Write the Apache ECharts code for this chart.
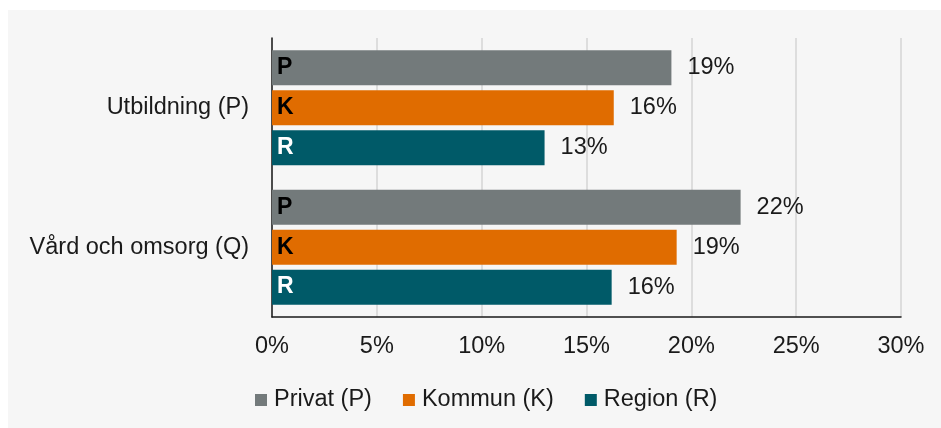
<!DOCTYPE html>
<html><head><meta charset="utf-8">
<script src="https://cdn.jsdelivr.net/npm/echarts@6/dist/echarts.min.js"></script>
<style>html,body{margin:0;padding:0;background:#fff;overflow:hidden}#c{position:absolute;left:8px;top:10px;width:933px;height:418px}</style>
</head><body><div id="c"></div>
<script>
const categories = ['Utbildning (P)', 'Vård och omsorg (Q)'];
const seriesNames = ['Privat (P)', 'Kommun (K)', 'Region (R)'];
const seriesLetters = ['P', 'K', 'R'];
const privat = [19.05, 22.35];
const kommun = [16.3, 19.3];
const region = [13.0, 16.2];
const xMin = 0, xMax = 30, xStep = 5;

const values = [privat, kommun, region];
const colors = ['#737a7b', '#e06c00', '#005a68'];
const letterColors = ['#000000', '#000000', '#ffffff'];
const FONT = "'Liberation Sans', Arial, sans-serif";
const gridPos = {left: 264, right: 40, top: 28, bottom: 111};

const chart = echarts.init(document.getElementById('c'));
const series = [];
values.forEach((v, i) => {
  series.push({
    type: 'bar', name: seriesNames[i], data: v, xAxisIndex: 0, yAxisIndex: 0,
    barWidth: 35, barGap: '14%',
    itemStyle: {color: colors[i]},
    label: {show: true, position: 'right', distance: 16, color: '#1a1a1a',
      fontFamily: FONT, fontSize: 23.5,
      formatter: p => Math.round(p.value) + '%'}
  });
});
values.forEach((v, i) => {
  series.push({
    type: 'bar', name: seriesNames[i], data: v, xAxisIndex: 1, yAxisIndex: 1,
    barWidth: 35, barGap: '14%', z: 5,
    itemStyle: {color: 'rgba(0,0,0,0)'},
    label: {show: true, position: 'insideLeft', distance: 5, color: letterColors[i],
      fontFamily: FONT, fontSize: 23, fontWeight: 'bold',
      formatter: () => seriesLetters[i]},
    legendHoverLink: false
  });
});

chart.setOption({
  backgroundColor: '#f6f6f6',
  animation: false,
  textStyle: {fontFamily: FONT},
  grid: [Object.assign({}, gridPos), Object.assign({}, gridPos)],
  xAxis: [
    {type: 'value', gridIndex: 0, min: xMin, max: xMax, interval: xStep,
      axisLine: {show: true, lineStyle: {color: '#1a1a1a', width: 1.5}},
      axisTick: {show: false},
      splitLine: {show: true, lineStyle: {color: '#d4d4d4', width: 1.5}},
      axisLabel: {formatter: '{value}%', color: '#1a1a1a', fontSize: 23.5, margin: 18, fontFamily: FONT}},
    {type: 'value', gridIndex: 1, min: xMin, max: xMax, interval: xStep, show: false}
  ],
  yAxis: [
    {type: 'category', gridIndex: 0, data: categories, inverse: true,
      axisLine: {show: true, lineStyle: {color: '#1a1a1a', width: 1.5}},
      axisTick: {show: false},
      axisLabel: {color: '#1a1a1a', fontSize: 23.5, margin: 23, fontFamily: FONT}},
    {type: 'category', gridIndex: 1, data: categories, inverse: true, show: false}
  ],
  legend: {
    data: seriesNames, left: 242, top: 373, icon: 'rect',
    itemWidth: 12, itemHeight: 12, itemGap: 31,
    textStyle: {color: '#1a1a1a', fontSize: 23.5, fontFamily: FONT, padding: [0, 0, 0, 2]}
  },
  series: series
});
</script></body></html>
